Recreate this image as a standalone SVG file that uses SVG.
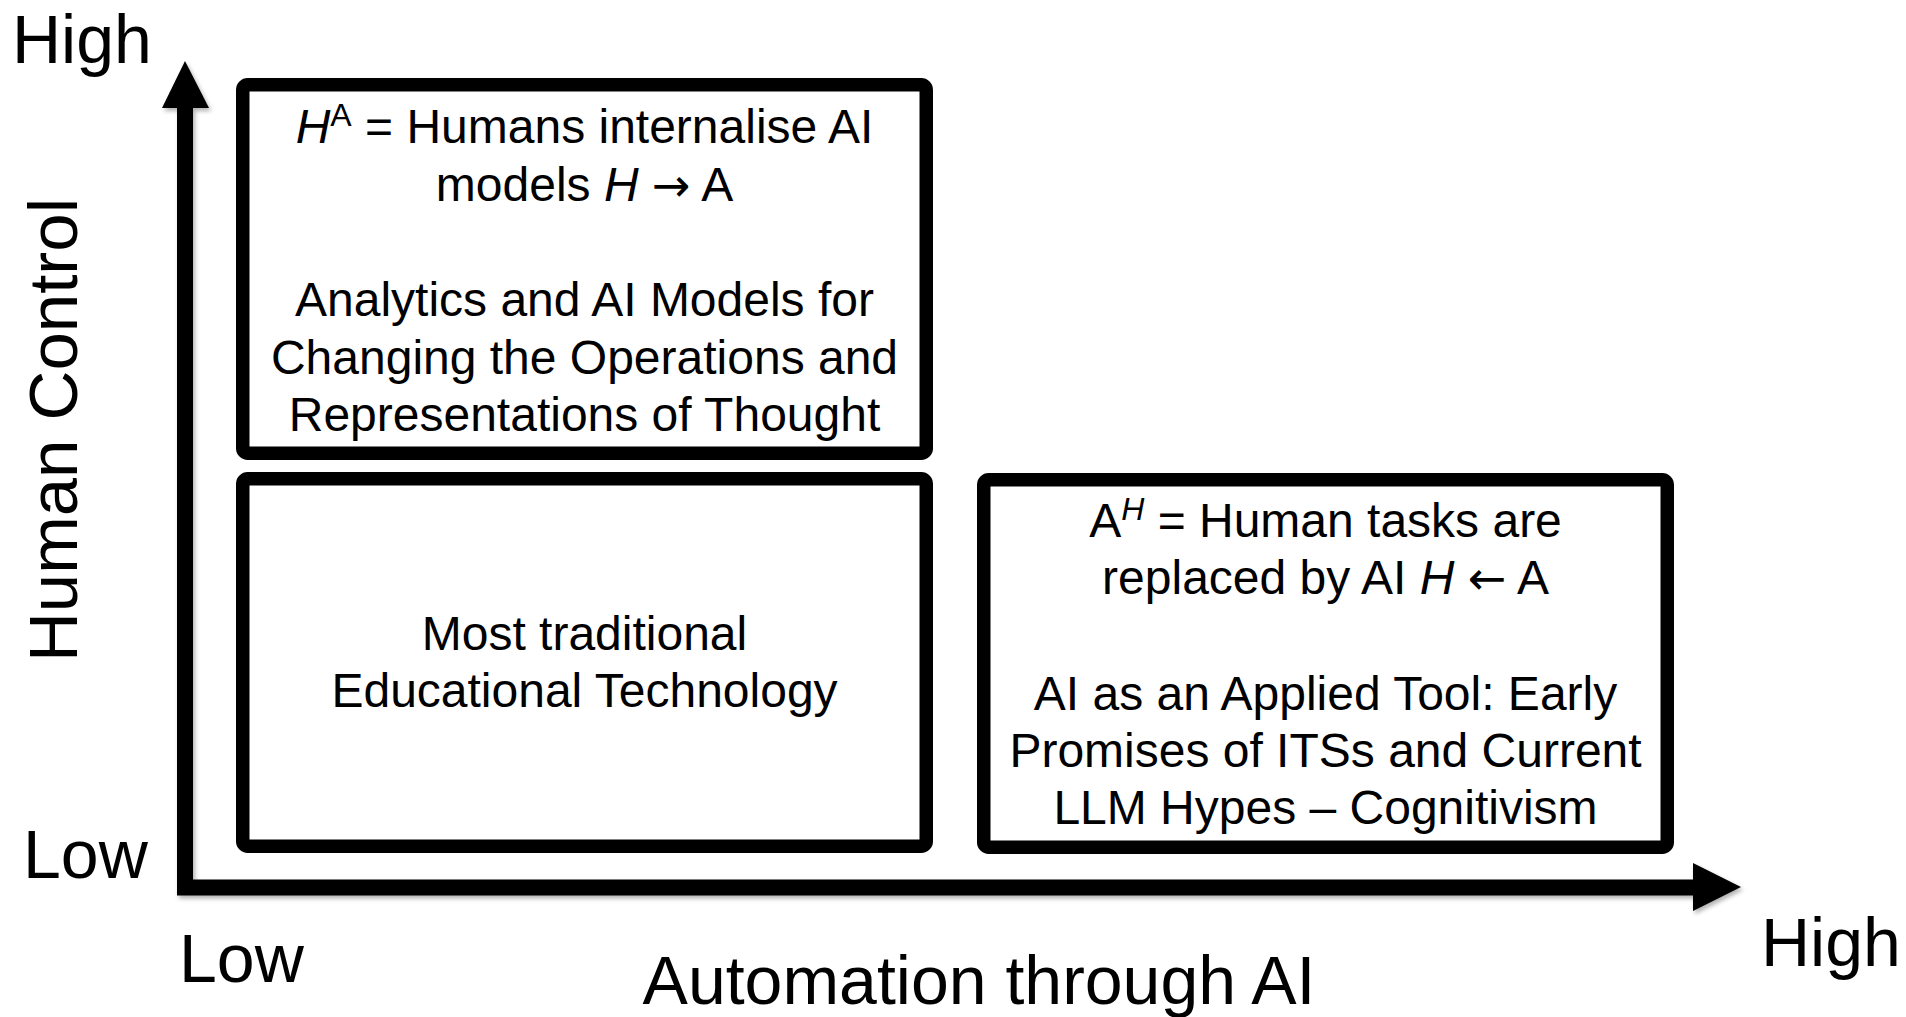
<svg xmlns="http://www.w3.org/2000/svg" width="1906" height="1017" viewBox="0 0 1906 1017">
<defs>
<style>
text{font-family:"Liberation Sans",Arial,sans-serif;fill:#000}
.box{fill:#fff;stroke:#000;stroke-width:13.5}
.t{font-size:48px;text-anchor:middle}
.ax{font-size:68px}
.shaft{stroke:#000;stroke-width:16;fill:none}
.head{fill:#000}
.sup{font-size:32px}
.arr{font-family:"DejaVu Sans",sans-serif;font-size:46px}
</style>
<filter id="sh" x="-5%" y="-5%" width="110%" height="110%">
<feDropShadow dx="2" dy="3" stdDeviation="2" flood-color="#000" flood-opacity="0.3"/>
</filter>
</defs>
<rect width="1906" height="1017" fill="#fff"/>
<g id="connectors" filter="url(#sh)">
<line class="shaft" x1="185" y1="105" x2="185" y2="888"/>
<polygon class="head" points="162,108 185,61 209,108"/>
<line class="shaft" x1="177" y1="887.5" x2="1696" y2="887.5"/>
<polygon class="head" points="1693,863 1741,887 1693,911"/>
</g>
<g id="node-top-left">
<rect class="box" x="242.75" y="84.75" width="683.5" height="368.5" rx="5"/>
<text class="t" x="584.5" y="143"><tspan font-style="italic">H</tspan><tspan class="sup" dy="-17">A</tspan><tspan dy="17"> = Humans internalise AI</tspan></text>
<text class="t" x="584.5" y="201">models <tspan font-style="italic">H</tspan> <tspan class="arr">→</tspan> A</text>
<text class="t" x="584.5" y="316">Analytics and AI Models for</text>
<text class="t" x="584.5" y="374">Changing the Operations and</text>
<text class="t" x="584.5" y="431">Representations of Thought</text>
</g>
<g id="node-bottom-left">
<rect class="box" x="242.75" y="478.75" width="683.5" height="367.5" rx="5"/>
<text class="t" x="584.5" y="650">Most traditional</text>
<text class="t" x="584.5" y="707">Educational Technology</text>
</g>
<g id="node-right">
<rect class="box" x="983.75" y="479.75" width="683.5" height="367.5" rx="5"/>
<text class="t" x="1325.5" y="537">A<tspan class="sup" font-style="italic" dy="-17">H</tspan><tspan dy="17"> = Human tasks are</tspan></text>
<text class="t" x="1325.5" y="594">replaced by AI <tspan font-style="italic">H</tspan> <tspan class="arr">←</tspan> A</text>
<text class="t" x="1325.5" y="710">AI as an Applied Tool: Early</text>
<text class="t" x="1325.5" y="767">Promises of ITSs and Current</text>
<text class="t" x="1325.5" y="824">LLM Hypes – Cognitivism</text>
</g>
<g id="axis-labels">
<text class="ax" x="12" y="63">High</text>
<text class="ax" x="23" y="878">Low</text>
<text class="ax" x="179" y="982">Low</text>
<text class="ax" x="1761" y="966">High</text>
<text class="ax" x="979" y="1004" text-anchor="middle">Automation through AI</text>
<text class="ax" transform="translate(77,430) rotate(-90)" text-anchor="middle" style="font-size:69px">Human Control</text>
</g>
</svg>
